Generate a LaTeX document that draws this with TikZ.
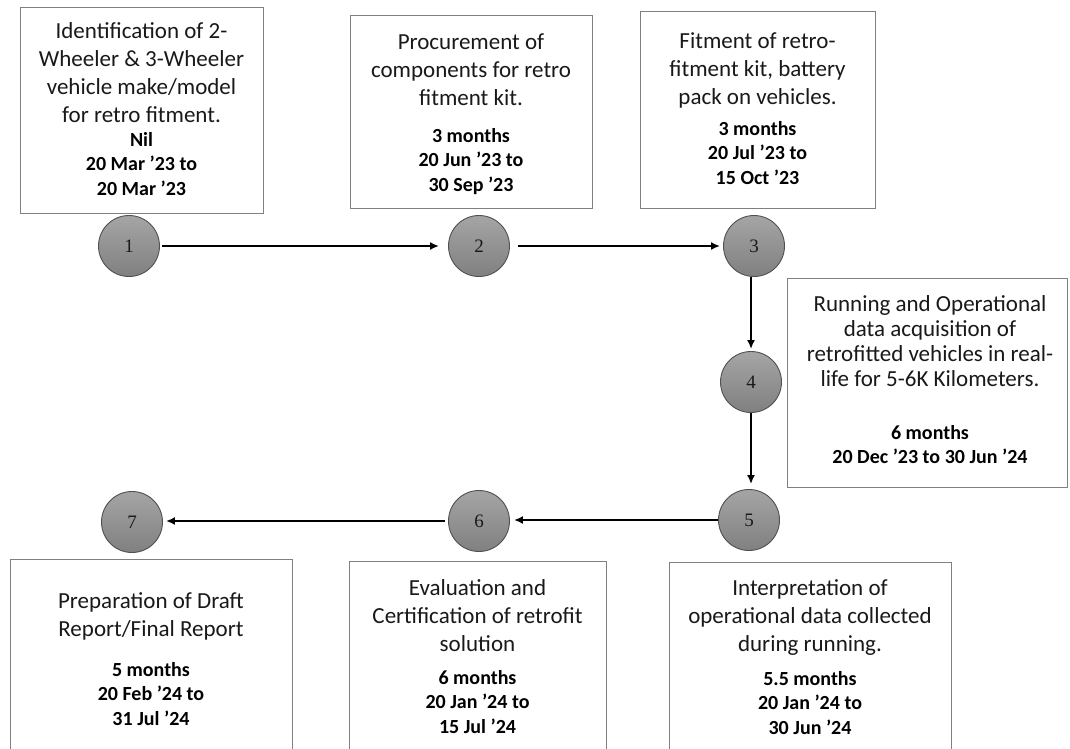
\documentclass[tikz,border=0pt]{standalone}
\usepackage{fontspec}
\setmainfont{Carlito}
\newfontfamily\numfont{Liberation Serif}
\usetikzlibrary{arrows.meta,shadings}
\definecolor{boxgray}{RGB}{128,128,128}
\definecolor{circtop}{RGB}{165,165,165}
\definecolor{circbot}{RGB}{128,128,128}
\definecolor{circline}{RGB}{80,80,80}
\definecolor{txt}{RGB}{25,25,25}
\tikzset{
  box/.style={draw=boxgray,line width=1pt,rectangle,inner sep=0pt},
  num/.style={circle,draw=circline,line width=0.9pt,top color=circtop,bottom color=circbot,minimum size=61pt,inner sep=0pt,font=\numfont\fontsize{19}{19}\selectfont,text=txt},
  reg/.style={align=center,anchor=north,inner sep=0pt,text=txt,font=\fontsize{23}{28}\selectfont},
  regb/.style={align=center,anchor=north,inner sep=0pt,text=txt,font=\fontsize{23}{25}\selectfont},
  bld/.style={align=center,anchor=north,inner sep=0pt,text=black,font=\bfseries\fontsize{20}{24.5}\selectfont},
  arr/.style={line width=2pt,-{Latex[length=9pt,width=8pt]}}
}
\begin{document}
\begin{tikzpicture}[x=1pt,y=-1pt]
\useasboundingbox[fill=white] (0,0) rectangle (1070,749);
% boxes
\node[box,minimum width=243pt,minimum height=205pt] (b1) at (141.5,110.5) {};
\node[box,minimum width=242pt,minimum height=192pt] (b2) at (471,112) {};
\node[box,minimum width=235pt,minimum height=196pt] (b3) at (757.5,110) {};
\node[box,minimum width=280pt,minimum height=209pt] (b4) at (927,382.5) {};
\node[box,minimum width=282pt,minimum height=200pt] (b5) at (810,662) {};
\node[box,minimum width=257pt,minimum height=200pt] (b6) at (477.5,661) {};
\node[box,minimum width=282pt,minimum height=200pt] (b7) at (151,659) {};
% texts
\node[reg] (t1) at (141.5,22) {Identification of 2-\\Wheeler \& 3-Wheeler\\vehicle make/model\\for retro fitment.};
\node[bld] (d1) at (141.5,132) {Nil\\20 Mar ’23 to\\20 Mar ’23};
\node[reg] (t2) at (471,34) {Procurement of\\components for retro\\fitment kit.};
\node[bld] (d2) at (471,128) {3 months\\20 Jun ’23 to\\30 Sep ’23};
\node[reg] (t3) at (757.5,32) {Fitment of retro-\\fitment kit, battery\\pack on vehicles.};
\node[bld] (d3) at (757.5,121) {3 months\\20 Jul ’23 to\\15 Oct ’23};
\node[regb] (t4) at (930,295) {Running and Operational\\data acquisition of\\retrofitted vehicles in real-\\life for 5-6K Kilometers.};
\node[bld] (d4) at (930,425) {6 months\\20 Dec ’23 to 30 Jun ’24};
\node[reg] (t5) at (810,579) {Interpretation of\\operational data collected\\during running.};
\node[bld] (d5) at (810,671) {5.5 months\\20 Jan ’24 to\\30 Jun ’24};
\node[reg] (t6) at (477.5,579) {Evaluation and\\Certification of retrofit\\solution};
\node[bld] (d6) at (477.5,670) {6 months\\20 Jan ’24 to\\15 Jul ’24};
\node[reg] (t7) at (151,592) {Preparation of Draft\\Report/Final Report};
\node[bld] (d7) at (151,662) {5 months\\20 Feb ’24 to\\31 Jul ’24};
% circles
\node[num] (c1) at (129,246) {1};
\node[num] (c2) at (479,246) {2};
\node[num] (c3) at (754,246) {3};
\node[num] (c4) at (751,382) {4};
\node[num] (c5) at (749,520) {5};
\node[num] (c6) at (479,521) {6};
\node[num] (c7) at (132,522) {7};
% arrows
\draw[arr,shorten <=2pt,shorten >=9pt] (c1) -- (c2);
\draw[arr,shorten <=8pt,shorten >=3pt] (c2) -- (c3);
\draw[arr,shorten >=2pt] (c4 |- c3.south) -- (c4.north);
\draw[arr,shorten >=5pt] (c4.south) -- (c4.south |- c5.north);
\draw[arr,shorten >=4pt] (c5.west) -- (c5.west -| c6.east);
\draw[arr,shorten <=3pt,shorten >=3pt] (c6.west) -- (c6.west -| c7.east);
\end{tikzpicture}
\end{document}
